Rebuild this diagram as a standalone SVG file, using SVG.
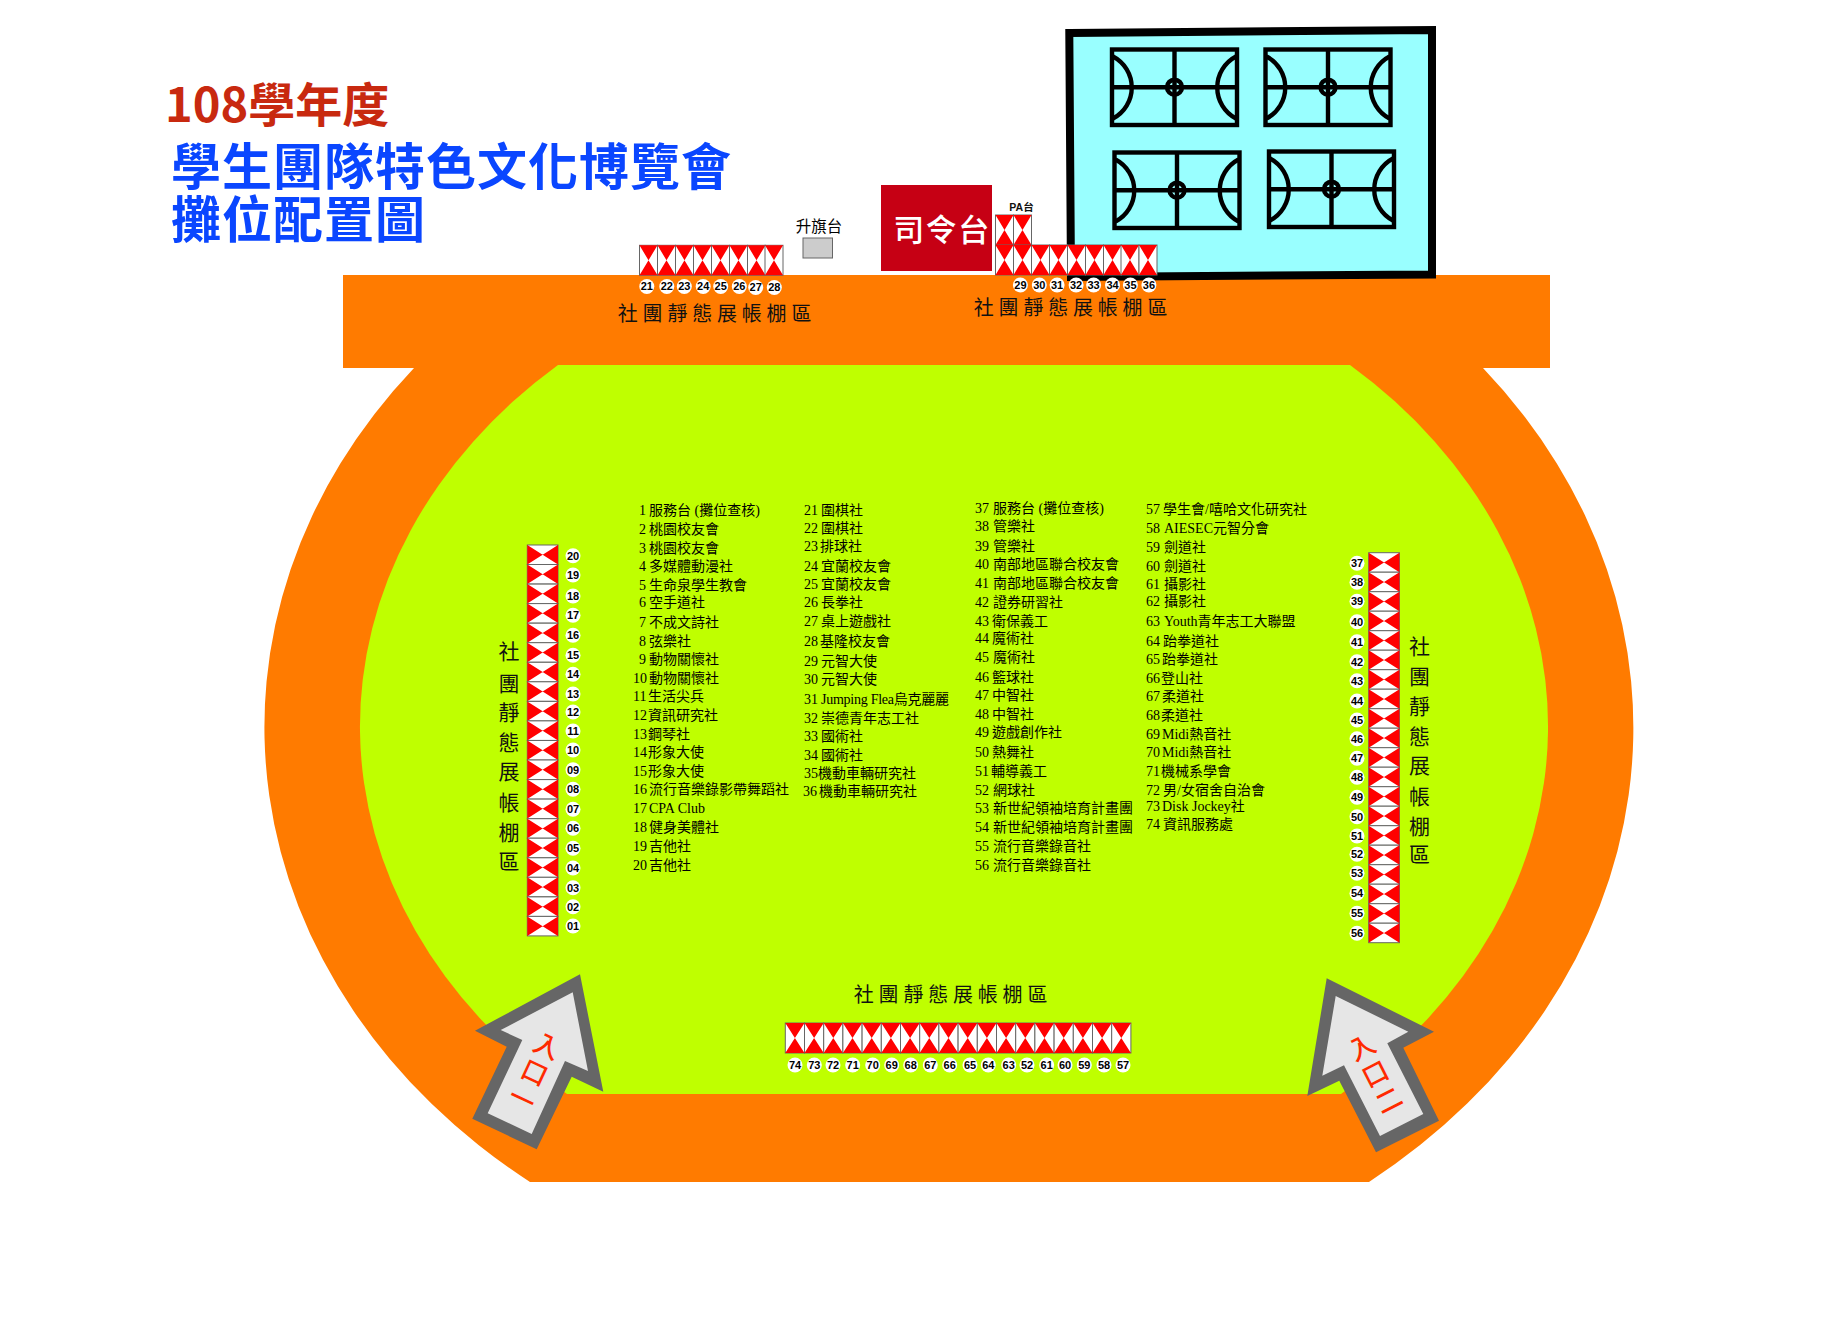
<svg xmlns="http://www.w3.org/2000/svg" width="1833" height="1323" viewBox="0 0 1833 1323">
<style>
text{font-family:"Noto Sans CJK TC","Noto Sans",sans-serif}
.n{font:bold 11px "Liberation Sans",Arial,sans-serif;text-anchor:middle;fill:#000}
.c{fill:#fff;r:7.5px}
.z{font-size:20px;letter-spacing:4.8px;fill:#111;text-anchor:middle}
.zv{font-size:21px;fill:#111;text-anchor:middle}
.l text{font-family:"Liberation Serif","Noto Sans CJK TC",serif;font-size:14px;fill:#000}
.cs{fill:none;stroke:#000;stroke-width:4.4}
.ent{fill:#ff2a00;font-size:26px;font-weight:500;letter-spacing:3.5px;writing-mode:vertical-rl;text-anchor:middle}
</style>
<defs>
<g id="h1"><rect width="18" height="30" fill="#fff" stroke="#666"/><path d="M0,0H18L0,30H18Z" fill="#f00"/></g>
<g id="h2"><rect width="19.2" height="30" fill="#fff" stroke="#666"/><path d="M0,0H19.2L0,30H19.2Z" fill="#f00"/></g>
<g id="v"><rect width="30.7" height="19.5" fill="#fff" stroke="#666"/><path d="M0,0V19.5L30.7,0V19.5Z" fill="#f00"/></g>
<g id="court" class="cs">
<rect x="2" y="2" width="125" height="75.5"/>
<path d="M64.5,2V77.5M2,39.7H127M3,9A35,35 0 0 1 3,71M126,9A35,35 0 0 0 126,71"/>
<circle cx="64.5" cy="39.7" r="7.5"/>
</g>
</defs>
<rect width="1833" height="1323" fill="#fff"/>
<g id="field">
<path d="M343,275H1550V368H1483A683.5,575 0 0 1 1369,1182H530A683.5,575 0 0 1 414,368H343Z" fill="#ff7b00"/>
<path d="M558,365H1350A595,485 0 0 1 1341,1094H567A595,485 0 0 1 558,365Z" fill="#bfff00"/>
</g>
<g id="title">
<text x="165" y="122" font-size="47" font-weight="700" fill="#c8290f">108學年度</text>
<text x="171" y="185" font-size="50" font-weight="700" letter-spacing="1" fill="#0a46ff">學生團隊特色文化博覽會</text>
<text x="171" y="238" font-size="50" font-weight="700" letter-spacing="1" fill="#0a46ff">攤位配置圖</text>
</g>
<g id="courts">
<path d="M1069.3,33L1432,30V274.5L1071,277Z" fill="#9ff" stroke="#000" stroke-width="8"/>
<use href="#court" x="1110" y="47.5"/>
<use href="#court" x="1263.5" y="47.5"/>
<use href="#court" x="1112.5" y="150.5"/>
<use href="#court" x="1267" y="149.5"/>
</g>
<g id="flag-platform">
<rect x="803" y="238" width="29.5" height="20" fill="#ccc" stroke="#666"/>
<text x="819" y="232" font-size="15.5" text-anchor="middle" fill="#000">升旗台</text>
</g>
<g id="command-stage">
<rect x="881" y="185" width="111" height="86" fill="#c60014"/>
<text x="942" y="241" font-size="31" font-weight="500" letter-spacing="1.5" text-anchor="middle" fill="#fff">司令台</text>
</g>
<text id="pa-label" x="1021.5" y="211" font-size="10.5" font-weight="700" text-anchor="middle" fill="#111" style="font-family:'Liberation Sans','Noto Sans CJK TC',sans-serif">PA台</text>
<g id="booths-top-left">
<use href="#h1" x="639.5" y="245.3"/><use href="#h1" x="657.5" y="245.3"/><use href="#h1" x="675.5" y="245.3"/><use href="#h1" x="693.5" y="245.3"/><use href="#h1" x="711.5" y="245.3"/><use href="#h1" x="729.5" y="245.3"/><use href="#h1" x="747.5" y="245.3"/><use href="#h1" x="765" y="245.3"/>
<circle class="c" cx="646.8" cy="286.5" r="7.5"/><text class="n" x="646.8" y="290.4">21</text>
<circle class="c" cx="666.8" cy="286.5" r="7.5"/><text class="n" x="666.8" y="290.4">22</text>
<circle class="c" cx="684.3" cy="286.5" r="7.5"/><text class="n" x="684.3" y="290.4">23</text>
<circle class="c" cx="703.2" cy="286.5" r="7.5"/><text class="n" x="703.2" y="290.4">24</text>
<circle class="c" cx="720.7" cy="286.5" r="7.5"/><text class="n" x="720.7" y="290.4">25</text>
<circle class="c" cx="739.3" cy="286.5" r="7.5"/><text class="n" x="739.3" y="290.4">26</text>
<circle class="c" cx="755.7" cy="287.5" r="7.5"/><text class="n" x="755.7" y="291.4">27</text>
<circle class="c" cx="774.3" cy="287.5" r="7.5"/><text class="n" x="774.3" y="291.4">28</text>
<text class="z" x="717" y="321">社團靜態展帳棚區</text>
</g>
<g id="booths-top-right">
<use href="#h1" x="995.5" y="215"/><use href="#h1" x="1013.5" y="215"/>
<use href="#h1" x="995.5" y="245"/><use href="#h1" x="1013.5" y="245"/><use href="#h1" x="1031.5" y="245"/><use href="#h1" x="1049.5" y="245"/><use href="#h1" x="1067.5" y="245"/><use href="#h1" x="1085.5" y="245"/><use href="#h1" x="1103.5" y="245"/><use href="#h1" x="1121" y="245"/><use href="#h1" x="1139" y="245"/>
<circle class="c" cx="1020.4" cy="285" r="7.5"/><text class="n" x="1020.4" y="288.9">29</text>
<circle class="c" cx="1039.3" cy="285" r="7.5"/><text class="n" x="1039.3" y="288.9">30</text>
<circle class="c" cx="1057.1" cy="285" r="7.5"/><text class="n" x="1057.1" y="288.9">31</text>
<circle class="c" cx="1076.1" cy="285" r="7.5"/><text class="n" x="1076.1" y="288.9">32</text>
<circle class="c" cx="1093.6" cy="285" r="7.5"/><text class="n" x="1093.6" y="288.9">33</text>
<circle class="c" cx="1112.5" cy="285" r="7.5"/><text class="n" x="1112.5" y="288.9">34</text>
<circle class="c" cx="1130.4" cy="285" r="7.5"/><text class="n" x="1130.4" y="288.9">35</text>
<circle class="c" cx="1148.9" cy="285" r="7.5"/><text class="n" x="1148.9" y="288.9">36</text>
<text class="z" x="1073" y="315">社團靜態展帳棚區</text>
</g>
<g id="booths-left">
<use href="#v" x="527.3" y="545"/><use href="#v" x="527.3" y="564.5"/><use href="#v" x="527.3" y="584.1"/><use href="#v" x="527.3" y="603.6"/><use href="#v" x="527.3" y="623.2"/><use href="#v" x="527.3" y="642.7"/><use href="#v" x="527.3" y="662.3"/><use href="#v" x="527.3" y="681.8"/><use href="#v" x="527.3" y="701.4"/><use href="#v" x="527.3" y="720.9"/><use href="#v" x="527.3" y="740.5"/><use href="#v" x="527.3" y="760"/><use href="#v" x="527.3" y="779.6"/><use href="#v" x="527.3" y="799.1"/><use href="#v" x="527.3" y="818.7"/><use href="#v" x="527.3" y="838.2"/><use href="#v" x="527.3" y="857.8"/><use href="#v" x="527.3" y="877.3"/><use href="#v" x="527.3" y="896.9"/><use href="#v" x="527.3" y="916.4"/>
<circle class="c" cx="573" cy="555.7" r="7"/><text class="n" x="573" y="559.6">20</text>
<circle class="c" cx="573" cy="575" r="7"/><text class="n" x="573" y="578.9">19</text>
<circle class="c" cx="573" cy="596" r="7"/><text class="n" x="573" y="599.9">18</text>
<circle class="c" cx="573" cy="615.3" r="7"/><text class="n" x="573" y="619.2">17</text>
<circle class="c" cx="573" cy="635.3" r="7"/><text class="n" x="573" y="639.2">16</text>
<circle class="c" cx="573" cy="655.3" r="7"/><text class="n" x="573" y="659.2">15</text>
<circle class="c" cx="573" cy="674.3" r="7"/><text class="n" x="573" y="678.2">14</text>
<circle class="c" cx="573" cy="694" r="7"/><text class="n" x="573" y="697.9">13</text>
<circle class="c" cx="573" cy="712" r="7"/><text class="n" x="573" y="715.9">12</text>
<circle class="c" cx="573" cy="731" r="7"/><text class="n" x="573" y="734.9">11</text>
<circle class="c" cx="573" cy="750" r="7"/><text class="n" x="573" y="753.9">10</text>
<circle class="c" cx="573" cy="769.7" r="7"/><text class="n" x="573" y="773.6">09</text>
<circle class="c" cx="573" cy="789.3" r="7"/><text class="n" x="573" y="793.2">08</text>
<circle class="c" cx="573" cy="809.3" r="7"/><text class="n" x="573" y="813.2">07</text>
<circle class="c" cx="573" cy="828.3" r="7"/><text class="n" x="573" y="832.2">06</text>
<circle class="c" cx="573" cy="848.3" r="7"/><text class="n" x="573" y="852.2">05</text>
<circle class="c" cx="573" cy="868" r="7"/><text class="n" x="573" y="871.9">04</text>
<circle class="c" cx="573" cy="887.7" r="7"/><text class="n" x="573" y="891.6">03</text>
<circle class="c" cx="573" cy="906.7" r="7"/><text class="n" x="573" y="910.6">02</text>
<circle class="c" cx="573" cy="926" r="7"/><text class="n" x="573" y="929.9">01</text>
<text class="zv" x="509" y="659">社</text><text class="zv" x="509" y="691">團</text><text class="zv" x="509" y="720">靜</text><text class="zv" x="509" y="750">態</text><text class="zv" x="509" y="779">展</text><text class="zv" x="509" y="810">帳</text><text class="zv" x="509" y="840">棚</text><text class="zv" x="509" y="869">區</text>
</g>
<g id="booths-right">
<use href="#v" x="1368.7" y="552.7"/><use href="#v" x="1368.7" y="572.2"/><use href="#v" x="1368.7" y="591.7"/><use href="#v" x="1368.7" y="611.2"/><use href="#v" x="1368.7" y="630.7"/><use href="#v" x="1368.7" y="650.2"/><use href="#v" x="1368.7" y="669.7"/><use href="#v" x="1368.7" y="689.2"/><use href="#v" x="1368.7" y="708.7"/><use href="#v" x="1368.7" y="728.2"/><use href="#v" x="1368.7" y="747.7"/><use href="#v" x="1368.7" y="767.2"/><use href="#v" x="1368.7" y="786.7"/><use href="#v" x="1368.7" y="806.2"/><use href="#v" x="1368.7" y="825.7"/><use href="#v" x="1368.7" y="845.2"/><use href="#v" x="1368.7" y="864.7"/><use href="#v" x="1368.7" y="884.2"/><use href="#v" x="1368.7" y="903.7"/><use href="#v" x="1368.7" y="923.2"/>
<circle class="c" cx="1357" cy="563.3" r="7"/><text class="n" x="1357" y="567.2">37</text>
<circle class="c" cx="1357" cy="582.3" r="7"/><text class="n" x="1357" y="586.2">38</text>
<circle class="c" cx="1357" cy="601.3" r="7"/><text class="n" x="1357" y="605.2">39</text>
<circle class="c" cx="1357" cy="621.7" r="7"/><text class="n" x="1357" y="625.6">40</text>
<circle class="c" cx="1357" cy="641.7" r="7"/><text class="n" x="1357" y="645.6">41</text>
<circle class="c" cx="1357" cy="661.7" r="7"/><text class="n" x="1357" y="665.6">42</text>
<circle class="c" cx="1357" cy="680.7" r="7"/><text class="n" x="1357" y="684.6">43</text>
<circle class="c" cx="1357" cy="701" r="7"/><text class="n" x="1357" y="704.9">44</text>
<circle class="c" cx="1357" cy="720" r="7"/><text class="n" x="1357" y="723.9">45</text>
<circle class="c" cx="1357" cy="738.7" r="7"/><text class="n" x="1357" y="742.6">46</text>
<circle class="c" cx="1357" cy="758.3" r="7"/><text class="n" x="1357" y="762.2">47</text>
<circle class="c" cx="1357" cy="777.3" r="7"/><text class="n" x="1357" y="781.2">48</text>
<circle class="c" cx="1357" cy="797.3" r="7"/><text class="n" x="1357" y="801.2">49</text>
<circle class="c" cx="1357" cy="816.7" r="7"/><text class="n" x="1357" y="820.6">50</text>
<circle class="c" cx="1357" cy="836" r="7"/><text class="n" x="1357" y="839.9">51</text>
<circle class="c" cx="1357" cy="854.3" r="7"/><text class="n" x="1357" y="858.2">52</text>
<circle class="c" cx="1357" cy="873.3" r="7"/><text class="n" x="1357" y="877.2">53</text>
<circle class="c" cx="1357" cy="893.3" r="7"/><text class="n" x="1357" y="897.2">54</text>
<circle class="c" cx="1357" cy="913.3" r="7"/><text class="n" x="1357" y="917.2">55</text>
<circle class="c" cx="1357" cy="933.3" r="7"/><text class="n" x="1357" y="937.2">56</text>
<text class="zv" x="1419.5" y="654">社</text><text class="zv" x="1419.5" y="684">團</text><text class="zv" x="1419.5" y="714">靜</text><text class="zv" x="1419.5" y="744">態</text><text class="zv" x="1419.5" y="773">展</text><text class="zv" x="1419.5" y="804">帳</text><text class="zv" x="1419.5" y="834">棚</text><text class="zv" x="1419.5" y="862">區</text>
</g>
<g id="booths-bottom">
<use href="#h2" x="785.3" y="1023"/><use href="#h2" x="804.5" y="1023"/><use href="#h2" x="823.7" y="1023"/><use href="#h2" x="842.9" y="1023"/><use href="#h2" x="862.1" y="1023"/><use href="#h2" x="881.3" y="1023"/><use href="#h2" x="900.5" y="1023"/><use href="#h2" x="919.7" y="1023"/><use href="#h2" x="938.9" y="1023"/><use href="#h2" x="958.1" y="1023"/><use href="#h2" x="977.3" y="1023"/><use href="#h2" x="996.5" y="1023"/><use href="#h2" x="1015.7" y="1023"/><use href="#h2" x="1034.9" y="1023"/><use href="#h2" x="1054.1" y="1023"/><use href="#h2" x="1073.3" y="1023"/><use href="#h2" x="1092.5" y="1023"/><use href="#h2" x="1111.7" y="1023"/>
<circle class="c" cx="795" cy="1065" r="7"/><text class="n" x="795" y="1068.9">74</text>
<circle class="c" cx="814.3" cy="1065" r="7"/><text class="n" x="814.3" y="1068.9">73</text>
<circle class="c" cx="833" cy="1065" r="7"/><text class="n" x="833" y="1068.9">72</text>
<circle class="c" cx="852.7" cy="1065" r="7"/><text class="n" x="852.7" y="1068.9">71</text>
<circle class="c" cx="872.7" cy="1065" r="7"/><text class="n" x="872.7" y="1068.9">70</text>
<circle class="c" cx="891.7" cy="1065" r="7"/><text class="n" x="891.7" y="1068.9">69</text>
<circle class="c" cx="910.7" cy="1065" r="7"/><text class="n" x="910.7" y="1068.9">68</text>
<circle class="c" cx="930.3" cy="1065" r="7"/><text class="n" x="930.3" y="1068.9">67</text>
<circle class="c" cx="949.7" cy="1065" r="7"/><text class="n" x="949.7" y="1068.9">66</text>
<circle class="c" cx="970" cy="1065" r="7"/><text class="n" x="970" y="1068.9">65</text>
<circle class="c" cx="988.3" cy="1065" r="7"/><text class="n" x="988.3" y="1068.9">64</text>
<circle class="c" cx="1008.7" cy="1065" r="7"/><text class="n" x="1008.7" y="1068.9">63</text>
<circle class="c" cx="1027" cy="1065" r="7"/><text class="n" x="1027" y="1068.9">52</text>
<circle class="c" cx="1046.7" cy="1065" r="7"/><text class="n" x="1046.7" y="1068.9">61</text>
<circle class="c" cx="1065" cy="1065" r="7"/><text class="n" x="1065" y="1068.9">60</text>
<circle class="c" cx="1084.3" cy="1065" r="7"/><text class="n" x="1084.3" y="1068.9">59</text>
<circle class="c" cx="1104" cy="1065" r="7"/><text class="n" x="1104" y="1068.9">58</text>
<circle class="c" cx="1123" cy="1065" r="7"/><text class="n" x="1123" y="1068.9">57</text>
<text class="z" x="953" y="1002">社團靜態展帳棚區</text>
</g>
<g id="list-1" class="l" transform="translate(0,-0.7)">
<text y="516"><tspan x="639">1</tspan><tspan x="649">服務台 (攤位查核)</tspan></text>
<text y="535"><tspan x="639">2</tspan><tspan x="649">桃園校友會</tspan></text>
<text y="554"><tspan x="639">3</tspan><tspan x="649">桃園校友會</tspan></text>
<text y="572"><tspan x="639">4</tspan><tspan x="649">多媒體動漫社</tspan></text>
<text y="591"><tspan x="639">5</tspan><tspan x="649">生命泉學生教會</tspan></text>
<text y="608"><tspan x="639">6</tspan><tspan x="649">空手道社</tspan></text>
<text y="628"><tspan x="639">7</tspan><tspan x="649">不成文詩社</tspan></text>
<text y="647"><tspan x="639">8</tspan><tspan x="649">弦樂社</tspan></text>
<text y="665"><tspan x="639">9</tspan><tspan x="649">動物關懷社</tspan></text>
<text y="684"><tspan x="633">10</tspan><tspan x="649">動物關懷社</tspan></text>
<text y="702"><tspan x="633">11</tspan><tspan x="648">生活尖兵</tspan></text>
<text y="721"><tspan x="633">12</tspan><tspan x="648">資訊研究社</tspan></text>
<text y="740"><tspan x="633">13</tspan><tspan x="648">鋼琴社</tspan></text>
<text y="758"><tspan x="633">14</tspan><tspan x="648">形象大使</tspan></text>
<text y="777"><tspan x="633">15</tspan><tspan x="648">形象大使</tspan></text>
<text y="795"><tspan x="633">16</tspan><tspan x="649">流行音樂錄影帶舞蹈社</tspan></text>
<text y="814"><tspan x="633">17</tspan><tspan x="649">CPA Club</tspan></text>
<text y="833"><tspan x="633">18</tspan><tspan x="649">健身美體社</tspan></text>
<text y="852"><tspan x="633">19</tspan><tspan x="649">吉他社</tspan></text>
<text y="871"><tspan x="633">20</tspan><tspan x="649">吉他社</tspan></text>
</g>
<g id="list-2" class="l" transform="translate(0,-0.7)">
<text y="516"><tspan x="804">21</tspan><tspan x="821">圍棋社</tspan></text>
<text y="534"><tspan x="804">22</tspan><tspan x="821">圍棋社</tspan></text>
<text y="552"><tspan x="804">23</tspan><tspan x="820">排球社</tspan></text>
<text y="572"><tspan x="804">24</tspan><tspan x="821">宜蘭校友會</tspan></text>
<text y="590"><tspan x="804">25</tspan><tspan x="821">宜蘭校友會</tspan></text>
<text y="608"><tspan x="804">26</tspan><tspan x="821">長拳社</tspan></text>
<text y="627"><tspan x="804">27</tspan><tspan x="821">桌上遊戲社</tspan></text>
<text y="647"><tspan x="804">28</tspan><tspan x="820">基隆校友會</tspan></text>
<text y="667"><tspan x="804">29</tspan><tspan x="821">元智大使</tspan></text>
<text y="685"><tspan x="804">30</tspan><tspan x="821">元智大使</tspan></text>
<text y="705"><tspan x="804">31</tspan><tspan x="821" textLength="128">Jumping Flea烏克麗麗</tspan></text>
<text y="724"><tspan x="804">32</tspan><tspan x="821">崇德青年志工社</tspan></text>
<text y="742"><tspan x="804">33</tspan><tspan x="821">國術社</tspan></text>
<text y="761"><tspan x="804">34</tspan><tspan x="821">國術社</tspan></text>
<text y="779"><tspan x="804">35</tspan><tspan x="818">機動車輛研究社</tspan></text>
<text y="797"><tspan x="803">36</tspan><tspan x="819">機動車輛研究社</tspan></text>
</g>
<g id="list-3" class="l" transform="translate(0,-0.7)">
<text y="514"><tspan x="975">37</tspan><tspan x="993">服務台 (攤位查核)</tspan></text>
<text y="532"><tspan x="975">38</tspan><tspan x="993">管樂社</tspan></text>
<text y="552"><tspan x="975">39</tspan><tspan x="993">管樂社</tspan></text>
<text y="570"><tspan x="975">40</tspan><tspan x="993">南部地區聯合校友會</tspan></text>
<text y="589"><tspan x="975">41</tspan><tspan x="993">南部地區聯合校友會</tspan></text>
<text y="608"><tspan x="975">42</tspan><tspan x="993">證券研習社</tspan></text>
<text y="627"><tspan x="975">43</tspan><tspan x="992">衛保義工</tspan></text>
<text y="644"><tspan x="975">44</tspan><tspan x="992">魔術社</tspan></text>
<text y="663"><tspan x="975">45</tspan><tspan x="993">魔術社</tspan></text>
<text y="683"><tspan x="975">46</tspan><tspan x="992">籃球社</tspan></text>
<text y="701"><tspan x="975">47</tspan><tspan x="992">中智社</tspan></text>
<text y="720"><tspan x="975">48</tspan><tspan x="992">中智社</tspan></text>
<text y="738"><tspan x="975">49</tspan><tspan x="992">遊戲創作社</tspan></text>
<text y="758"><tspan x="975">50</tspan><tspan x="992">熱舞社</tspan></text>
<text y="777"><tspan x="975">51</tspan><tspan x="991">輔導義工</tspan></text>
<text y="796"><tspan x="975">52</tspan><tspan x="993">網球社</tspan></text>
<text y="814"><tspan x="975">53</tspan><tspan x="993">新世紀領袖培育計畫團</tspan></text>
<text y="833"><tspan x="975">54</tspan><tspan x="993">新世紀領袖培育計畫團</tspan></text>
<text y="852"><tspan x="975">55</tspan><tspan x="993">流行音樂錄音社</tspan></text>
<text y="871"><tspan x="975">56</tspan><tspan x="993">流行音樂錄音社</tspan></text>
</g>
<g id="list-4" class="l" transform="translate(0,-0.7)">
<text y="515"><tspan x="1146">57</tspan><tspan x="1163">學生會/嘻哈文化研究社</tspan></text>
<text y="534"><tspan x="1146">58</tspan><tspan x="1164">AIESEC元智分會</tspan></text>
<text y="553"><tspan x="1146">59</tspan><tspan x="1164">劍道社</tspan></text>
<text y="572"><tspan x="1146">60</tspan><tspan x="1164">劍道社</tspan></text>
<text y="590"><tspan x="1146">61</tspan><tspan x="1164">攝影社</tspan></text>
<text y="607"><tspan x="1146">62</tspan><tspan x="1164">攝影社</tspan></text>
<text y="627"><tspan x="1146">63</tspan><tspan x="1164">Youth青年志工大聯盟</tspan></text>
<text y="647"><tspan x="1146">64</tspan><tspan x="1163">跆拳道社</tspan></text>
<text y="665"><tspan x="1146">65</tspan><tspan x="1162">跆拳道社</tspan></text>
<text y="684"><tspan x="1146">66</tspan><tspan x="1161">登山社</tspan></text>
<text y="702"><tspan x="1146">67</tspan><tspan x="1162">柔道社</tspan></text>
<text y="721"><tspan x="1146">68</tspan><tspan x="1161">柔道社</tspan></text>
<text y="740"><tspan x="1146">69</tspan><tspan x="1162">Midi熱音社</tspan></text>
<text y="758"><tspan x="1146">70</tspan><tspan x="1162">Midi熱音社</tspan></text>
<text y="777"><tspan x="1146">71</tspan><tspan x="1161">機械系學會</tspan></text>
<text y="796"><tspan x="1146">72</tspan><tspan x="1163">男/女宿舍自治會</tspan></text>
<text y="812"><tspan x="1146">73</tspan><tspan x="1162">Disk Jockey社</tspan></text>
<text y="830"><tspan x="1146">74</tspan><tspan x="1163">資訊服務處</tspan></text>
</g>
<g id="entrance-1">
<polygon points="580,974.3 603.3,1091.7 571.7,1076.7 536.7,1149.3 472.3,1118.7 506.7,1046.7 475,1030.7" fill="#666"/>
<polygon points="572.7,992.3 588,1071 565,1061 531.7,1134 487.7,1113.3 522.3,1040 500.7,1030" fill="#e6e6e6"/>
<text class="ent" transform="translate(534,1074) rotate(25)">入口一</text>
</g>
<g id="entrance-2">
<polygon points="1326.7,978.3 1434,1031.7 1403.3,1047.7 1439,1120.7 1376,1152.3 1339.3,1080.7 1307.3,1096" fill="#666"/>
<polygon points="1335.7,996 1408.3,1031.7 1387.3,1043.3 1423.3,1114 1380,1136 1344,1065.3 1322.3,1075.7" fill="#e6e6e6"/>
<text class="ent" transform="translate(1376,1075) rotate(-27)">入口二</text>
</g>
</svg>
